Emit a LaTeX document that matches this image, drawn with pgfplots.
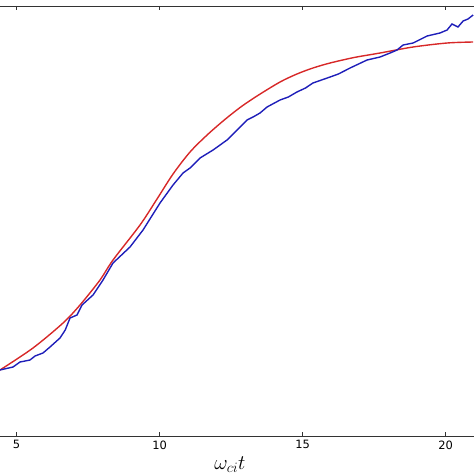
\documentclass[border=0pt]{standalone}
\usepackage{pgfplots}
\pgfplotsset{compat=1.18}
\usepackage{fontspec}
\setmainfont{DejaVu Sans}
\definecolor{mplred}{RGB}{215,40,40}
\definecolor{mplblue}{RGB}{30,30,185}

\begin{document}
\begin{tikzpicture}
\useasboundingbox (0,-38bp) rectangle (474bp,436bp);
\begin{axis}[
    at={(0,0)}, anchor=south west,
    scale only axis,
    width=474bp, height=430bp,
    xmin=4.42, xmax=20.99,
    ymin=0, ymax=430,
    axis x line=box, axis y line=none,
    axis line style={line width=0.8pt, black!80},
    xtick={5,10,15,20},
    ytick=\empty,
    tick align=inside,
    major tick length=4bp,
    tick style={black!80, line width=0.6pt},
    xticklabel style={font=\fontsize{11.5}{13}\selectfont, yshift=-1bp},
    /pgf/number format/assume math mode=true,
    xlabel={$\omega_{ci}t$},
    xlabel style={at={(rel axis cs:0.485,0)}, anchor=base, yshift=-33bp,
                  font=\fontsize{21}{23}\selectfont},
]
\addplot[mplred, line width=1.4pt, smooth] coordinates {
(4.42,66) (5.574,88) (6.623,113) (7.217,131) (7.916,156) (8.371,176)
(9.315,211) (9.909,237) (10.469,262) (11.063,284) (11.66,301) (12.26,316)
(12.86,329.5) (13.46,341) (14.21,354) (14.80,362) (15.36,368) (15.96,373)
(16.8,378.5) (17.706,383) (18.86,389) (20.05,393) (20.96,394)
};
\addplot[mplblue, line width=1.4pt] coordinates {
(4.42,66) (4.875,69) (5.119,74) (5.30,75) (5.469,76) (5.644,80) (5.923,83)
(6.168,89) (6.518,98) (6.70,106) (6.868,118) (7.112,121) (7.287,131)
(7.672,141) (8.021,156) (8.371,173) (8.965,189) (9.42,206) (10.014,233)
(10.469,251) (10.819,263) (11.063,268) (11.413,278) (11.868,286)
(12.357,296) (12.707,306) (13.056,316) (13.266,319) (13.51,323)
(13.756,329) (14.21,336) (14.50,339) (14.80,344) (15.10,348) (15.36,353)
(15.96,359) (16.25,362) (16.658,368) (17.252,376) (17.706,379)
(18.056,383) (18.301,386) (18.511,391) (18.86,393) (19.35,400)
(19.80,403) (20.05,406) (20.22,412) (20.43,409) (20.61,415) (20.78,417)
(20.96,421)
};
\end{axis}
\end{tikzpicture}
\end{document}
